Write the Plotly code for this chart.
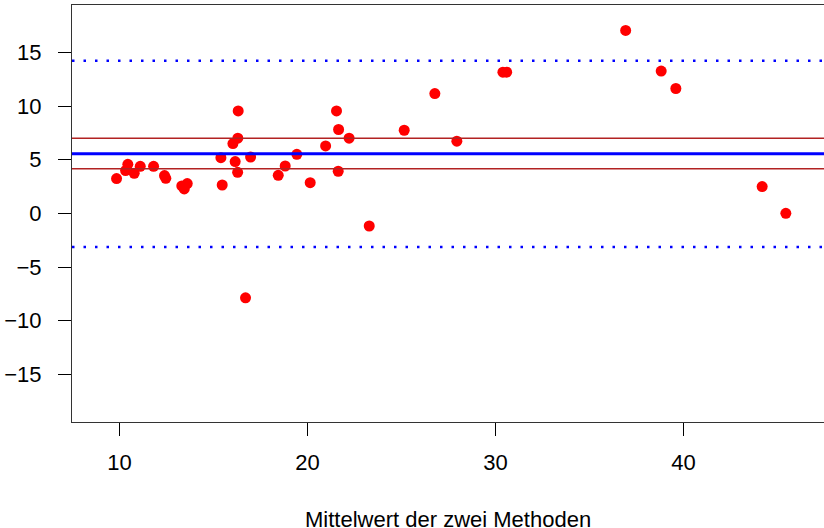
import plotly.graph_objects as go

# Mittelwert der beiden Methoden (x) und deren Differenz (y)
mittelwert = [9.85, 10.33, 10.45, 10.79, 11.11, 11.82, 12.40, 12.47, 13.32, 13.45,
              13.61, 15.40, 15.47, 16.04, 16.30, 16.32, 16.16, 16.29, 16.98, 16.71,
              18.45, 18.82, 19.44, 20.15, 20.97, 21.55, 21.66, 21.64, 22.22, 23.29,
              25.15, 26.78, 27.95, 30.40, 30.60, 36.93, 38.82, 39.60, 44.19, 45.45]
differenz = [3.24, 3.98, 4.57, 3.73, 4.38, 4.38, 3.52, 3.26, 2.55, 2.27,
             2.77, 5.19, 2.64, 6.50, 7.00, 9.54, 4.82, 3.82, 5.25, -7.87,
             3.54, 4.41, 5.50, 2.86, 6.28, 9.54, 7.81, 3.92, 7.00, -1.18,
             7.74, 11.16, 6.72, 13.15, 13.15, 17.04, 13.25, 11.63, 2.49, 0.00]

# Mittlere Differenz, Konfidenzgrenzen und Übereinstimmungsgrenzen
mean_diff = 5.55
ci_lower, ci_upper = 4.15, 6.99
loa_lower, loa_upper = -3.14, 14.22

x_ticks = [10, 20, 30, 40]
y_ticks = [-15, -10, -5, 0, 5, 10, 15]
x_title = "Mittelwert der zwei Methoden"

fig = go.Figure()
fig.add_trace(go.Scatter(
    x=mittelwert, y=differenz, mode="markers",
    marker=dict(color="#FF0000", size=11, line=dict(width=0)),
    showlegend=False, hoverinfo="x+y",
))

shapes = []
def hline(y, color, width, dash="solid"):
    shapes.append(dict(type="line", xref="paper", x0=0, x1=1, yref="y", y0=y, y1=y,
                       line=dict(color=color, width=width, dash=dash), layer="above"))

hline(ci_lower, "#B22222", 1.5)
hline(ci_upper, "#B22222", 1.5)
hline(mean_diff, "#0000FF", 3)
hline(loa_lower, "#0000FF", 2.5, "2.5px,9px")
hline(loa_upper, "#0000FF", 2.5, "2.5px,9px")

fig.update_layout(
    width=824, height=528,
    margin=dict(l=72, r=0, t=5, b=106),
    paper_bgcolor="white", plot_bgcolor="white",
    font=dict(family="Liberation Sans, Arial, sans-serif", size=22, color="black"),
    shapes=shapes,
    xaxis=dict(range=[7.48, 47.48], tickvals=x_ticks, ticks="outside", ticklen=13,
               tickcolor="black", showline=True, linecolor="#333", linewidth=1,
               mirror=True, showgrid=False, zeroline=False, ticklabelstandoff=8),
    yaxis=dict(range=[-19.44, 19.41], tickvals=y_ticks, ticks="outside", ticklen=13,
               tickcolor="black", showline=True, linecolor="#333", linewidth=1,
               mirror=False, showgrid=False, zeroline=False, ticklabelstandoff=12),
    annotations=[dict(text=x_title, xref="paper", yref="paper", x=0.5, y=-0.233,
                      xanchor="center", yanchor="middle", showarrow=False,
                      font=dict(size=22))],
)

fig.write_html("out.html")
